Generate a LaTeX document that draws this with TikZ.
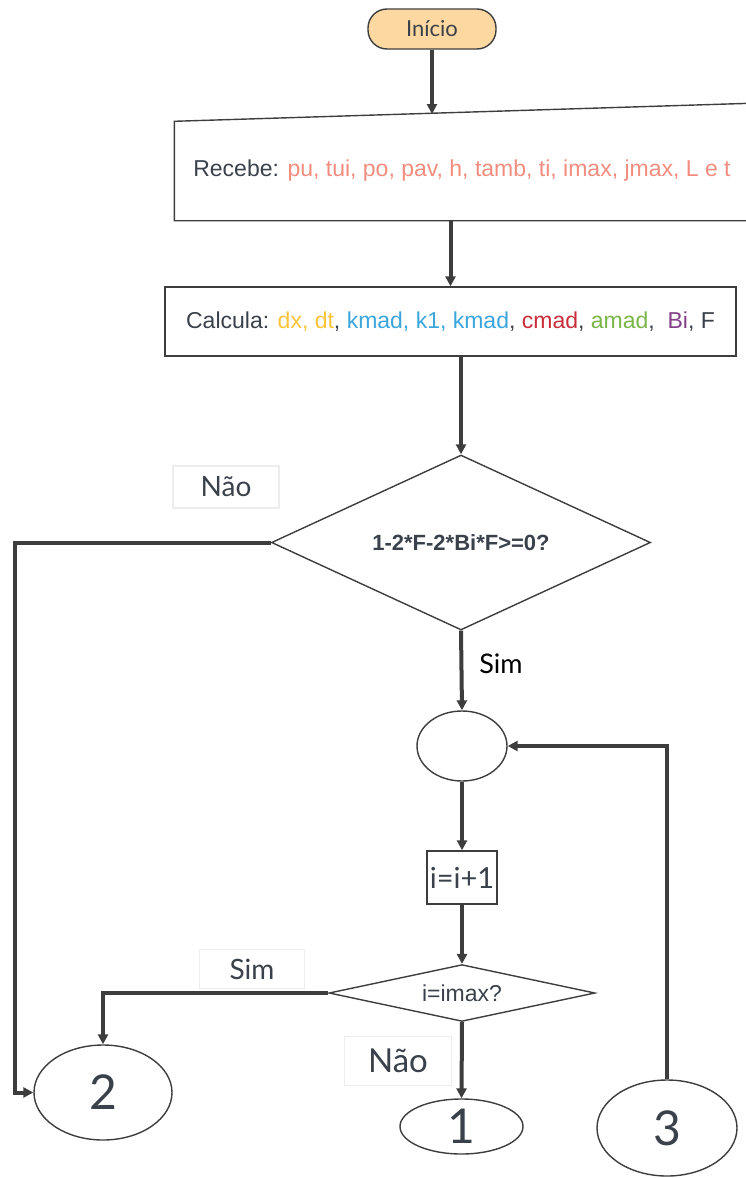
\documentclass[tikz,border=0pt]{standalone}
\usepackage{fontspec}
\setmainfont{Liberation Sans}
\newfontfamily\latofont{Lato}
\usepackage{tikz}
\usetikzlibrary{arrows.meta,positioning,shapes.geometric,calc}

\definecolor{ink}{HTML}{3A414A}
\definecolor{flow}{HTML}{3D3D3D}
\definecolor{startfill}{HTML}{FDD8A0}
\definecolor{salmon}{HTML}{F28C7E}
\definecolor{lyellow}{HTML}{FCC438}
\definecolor{lblue}{HTML}{3AA6DD}
\definecolor{lred}{HTML}{C92D39}
\definecolor{lgreen}{HTML}{7AB648}
\definecolor{lpurple}{HTML}{834187}

\begin{document}
\begin{tikzpicture}[x=1pt, y=-1pt,
shapeline/.style={draw=flow, line width=1.4pt, text=ink},
terminal/.style={shapeline, fill=startfill, rounded corners=19pt, minimum width=128pt, minimum height=40pt, font=\latofont\fontsize{22}{26}\selectfont},
process/.style={shapeline, fill=white, inner sep=0pt, align=center, font=\fontsize{23}{27}\selectfont},
decision/.style={shapeline, diamond, inner sep=0pt, aspect=2},
joint/.style={shapeline, ellipse, inner sep=0pt, font=\latofont\fontsize{48}{52}\selectfont},
tag/.style={draw=black!7, line width=1.5pt, fill=white, inner sep=0pt, text=ink, font=\latofont\fontsize{28}{32}\selectfont},
arrow/.style={-{Triangle[length=10pt,width=10pt]}, line width=4pt, draw=flow}
]
\useasboundingbox (0,0) rectangle (746,1178);

\node[terminal] (inicio) at (432,29) {Início};
\node[process, draw=none, fill=none, minimum width=574pt, minimum height=98pt] (recebe) at (462,171)
  {Recebe: \textcolor{salmon}{pu, tui, po, pav, h, tamb, ti, imax, jmax, L e t}};
\draw[shapeline] (recebe.south west) -- (recebe.north west) -- ($(recebe.north east)+(0,-18)$) -- (recebe.south east) -- cycle;
\coordinate (rtop) at (432,114);
\node[process, minimum width=571pt, minimum height=69pt] (calcula) at (450.5,321.5)
  {Calcula: \textcolor{lyellow}{dx, dt}, \textcolor{lblue}{kmad, k1, kmad}, \textcolor{lred}{cmad}, \textcolor{lgreen}{amad},\ \ \textcolor{lpurple}{Bi}, F};
\node[decision, minimum width=379pt, minimum height=175pt, font=\bfseries\fontsize{22}{26}\selectfont] (d1) at (461,542.5) {1-2*F-2*Bi*F>=0?};
\node[joint, minimum width=90pt, minimum height=70pt] (loop) at (462,746) {};
\node[process, minimum width=70pt, minimum height=53pt, font=\latofont\fontsize{29}{32}\selectfont] (inc) at (462,877.5) {i=i+1};
\node[decision, minimum width=266pt, minimum height=52pt, font=\fontsize{23}{26}\selectfont] (d2) at (462,993) {i=imax?};
\node[joint, minimum width=138pt, minimum height=95pt] (c2) at (103,1092.5) {2};
\node[joint, minimum width=123pt, minimum height=55pt] (c1) at (461.5,1126.5) {1};
\node[joint, minimum width=140pt, minimum height=96pt] (c3) at (667,1128) {3};

% labels
\node[tag, minimum width=106pt, minimum height=42pt] (no1) at (226,487) {Não};
\node[font=\latofont\fontsize{27}{30}\selectfont] (yes1) at (501,664) {Sim};
\node[tag, minimum width=105pt, minimum height=39pt] (yes2) at (252,969) {Sim};
\node[tag, minimum width=107pt, minimum height=49pt, font=\latofont\fontsize{33}{36}\selectfont] (no2) at (398,1061) {Não};

% connectors
\draw[arrow] (inicio.south) -- (rtop);
\draw[arrow] (calcula.north |- recebe.south) -- (calcula.north);
\draw[arrow] (calcula.south -| d1.north) -- (d1.north);
\draw[arrow] (d1.south) -- (loop.north);
\draw[arrow] (loop.south) -- (inc.north);
\draw[arrow] (inc.south) -- (d2.north);
\draw[arrow] (d2.south) -- (c1.north);
\draw[arrow] (d1.west) -- ++(-256,0) |- (c2.west);
\draw[arrow] (d2.west) -| (c2.north);
\draw[arrow] (c3.north) |- (loop.east);
\end{tikzpicture}
\end{document}
